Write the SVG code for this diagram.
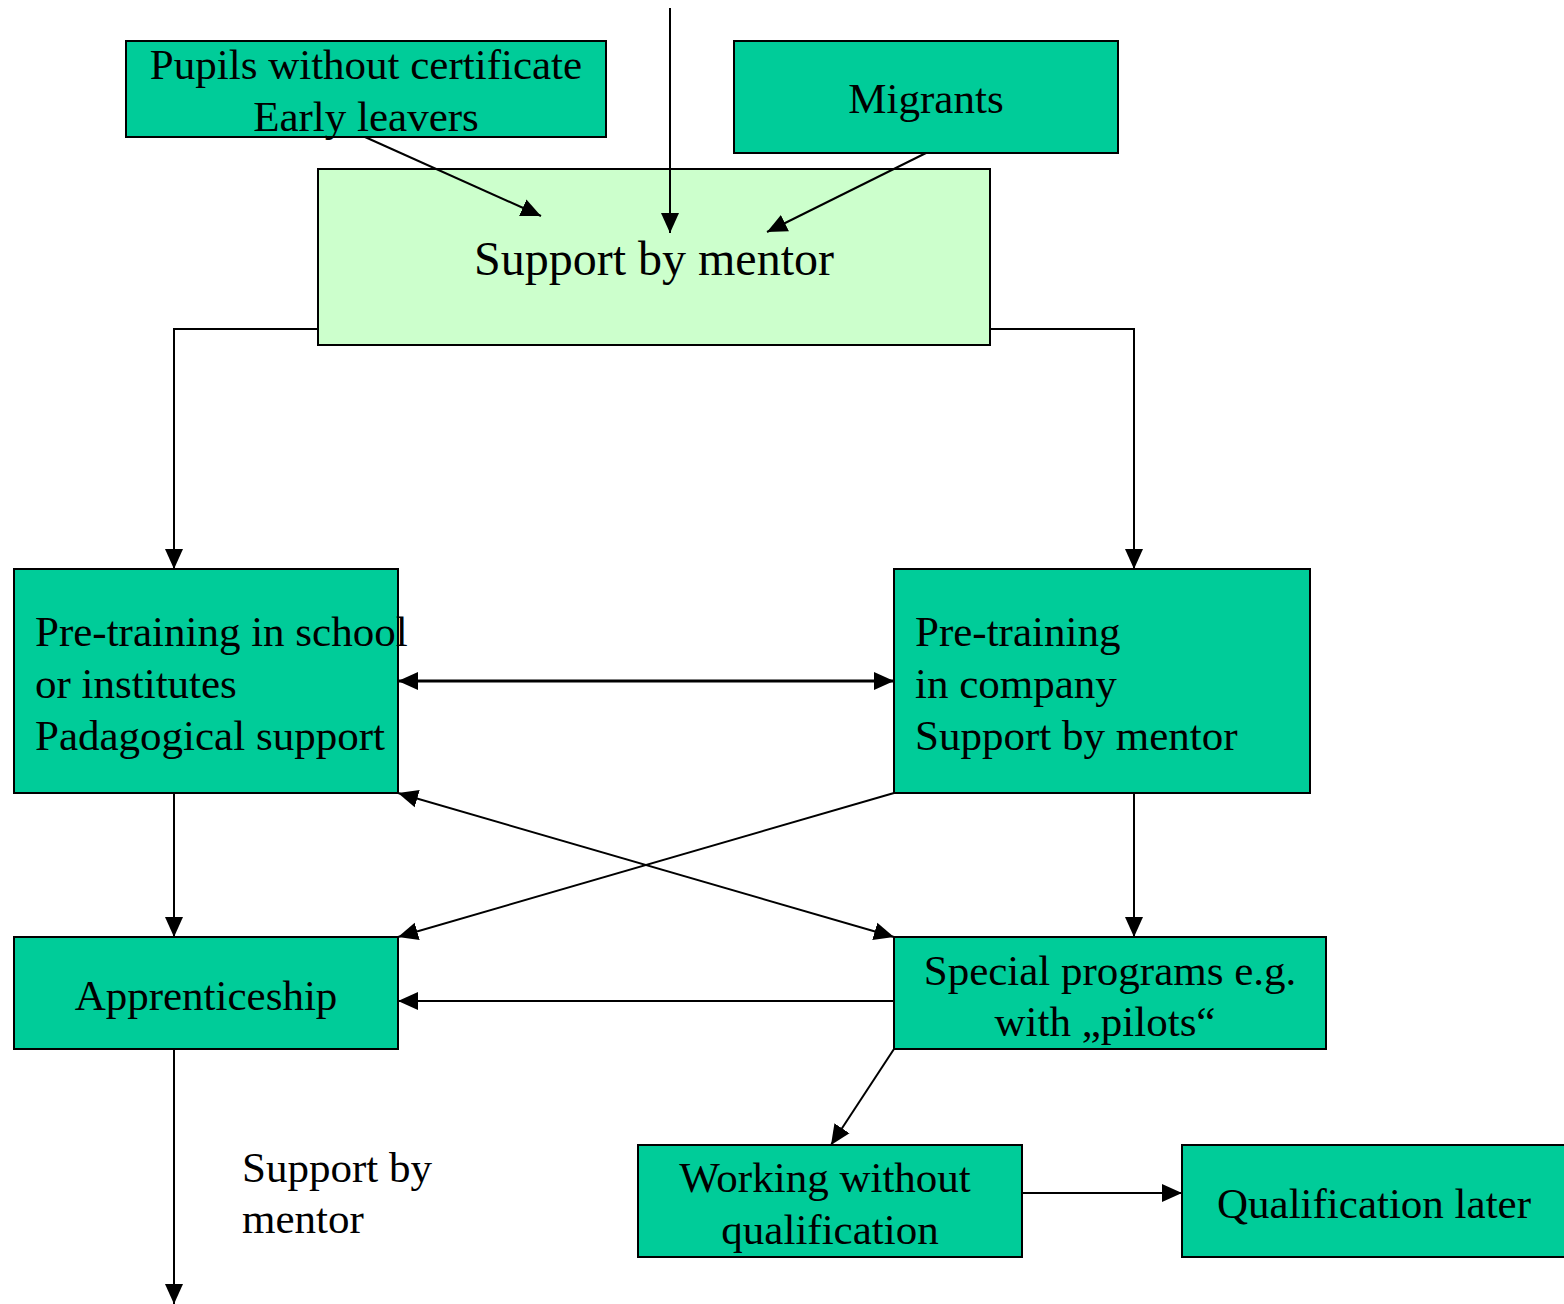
<svg xmlns="http://www.w3.org/2000/svg" width="1564" height="1304" viewBox="0 0 1564 1304">
<style>
.box{fill:#00CC99;stroke:#000;stroke-width:2}
.light{fill:#CCFFCC;stroke:#000;stroke-width:2}
text{font-family:"Liberation Serif","Times New Roman",serif;font-size:43px;fill:#000}
.c{text-anchor:middle}
.ln{fill:none;stroke:#000;stroke-width:2}
.thick{fill:none;stroke:#000;stroke-width:3}
</style>
<defs>
<marker id="ah" markerUnits="userSpaceOnUse" markerWidth="20" markerHeight="20" viewBox="0 0 20 20" refX="20" refY="10" orient="auto-start-reverse">
<path d="M0,1 L20,10 L0,19 Z" fill="#000"/>
</marker>
</defs>
<rect width="1564" height="1304" fill="#fff"/>
<g id="pupils">
<rect class="box" x="126" y="41" width="480" height="96"/>
<text class="c" x="366" y="79">Pupils without certificate</text>
<text class="c" x="366" y="131">Early leavers</text>
</g>
<g id="migrants">
<rect class="box" x="734" y="41" width="384" height="112"/>
<text class="c" x="926" y="113">Migrants</text>
</g>
<g id="support">
<rect class="light" x="318" y="169" width="672" height="176"/>
<text class="c" x="654" y="275" style="font-size:48px">Support by mentor</text>
</g>
<g id="pretrain-school">
<rect class="box" x="14" y="569" width="384" height="224"/>
<text x="35" y="646">Pre-training in school</text>
<text x="35" y="698">or institutes</text>
<text x="35" y="750">Padagogical support</text>
</g>
<g id="pretrain-company">
<rect class="box" x="894" y="569" width="416" height="224"/>
<text x="915" y="646">Pre-training</text>
<text x="915" y="698">in company</text>
<text x="915" y="750">Support by mentor</text>
</g>
<g id="apprenticeship">
<rect class="box" x="14" y="937" width="384" height="112"/>
<text class="c" x="206" y="1010">Apprenticeship</text>
</g>
<g id="special">
<rect class="box" x="894" y="937" width="432" height="112"/>
<text class="c" x="1110" y="985">Special programs e.g.</text>
<text class="c" x="1105" y="1036">with „pilots“</text>
</g>
<g id="working">
<rect class="box" x="638" y="1145" width="384" height="112"/>
<text class="c" x="825" y="1192">Working without</text>
<text class="c" x="830" y="1244">qualification</text>
</g>
<g id="qualification">
<rect class="box" x="1182" y="1145" width="390" height="112"/>
<text class="c" x="1374" y="1218">Qualification later</text>
</g>
<g id="label-support">
<text x="242" y="1182">Support by</text>
<text x="242" y="1233">mentor</text>
</g>
<g id="connectors">
<line class="ln" x1="670" y1="8" x2="670" y2="233" marker-end="url(#ah)"/>
<line class="ln" x1="365" y1="137" x2="541" y2="216" marker-end="url(#ah)"/>
<line class="ln" x1="926" y1="153" x2="767" y2="232" marker-end="url(#ah)"/>
<polyline class="ln" points="318,329 174,329 174,569" marker-end="url(#ah)"/>
<polyline class="ln" points="990,329 1134,329 1134,569" marker-end="url(#ah)"/>
<line class="thick" x1="398" y1="681" x2="894" y2="681" marker-start="url(#ah)" marker-end="url(#ah)"/>
<line class="ln" x1="174" y1="793" x2="174" y2="937" marker-end="url(#ah)"/>
<line class="ln" x1="1134" y1="793" x2="1134" y2="937" marker-end="url(#ah)"/>
<line class="ln" x1="894" y1="793" x2="398" y2="937" marker-end="url(#ah)"/>
<line class="ln" x1="398" y1="793" x2="894" y2="937" marker-start="url(#ah)" marker-end="url(#ah)"/>
<line class="ln" x1="894" y1="1001" x2="398" y2="1001" marker-end="url(#ah)"/>
<line class="ln" x1="894" y1="1049" x2="831" y2="1145" marker-end="url(#ah)"/>
<line class="ln" x1="1022" y1="1193" x2="1182" y2="1193" marker-end="url(#ah)"/>
<line class="ln" x1="174" y1="1049" x2="174" y2="1304" marker-end="url(#ah)"/>
</g>
</svg>
